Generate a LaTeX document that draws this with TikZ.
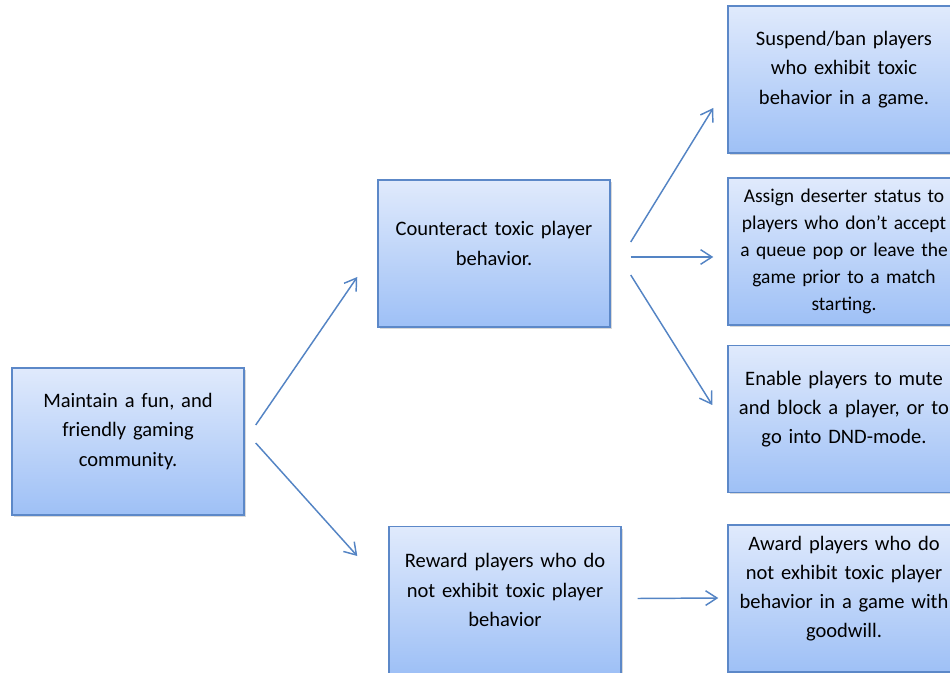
\documentclass[tikz,border=0pt]{standalone}
\usepackage{fontspec}
\setmainfont{Carlito}
\usetikzlibrary{arrows.meta,shadows}

\definecolor{boxline}{RGB}{92,136,200}
\definecolor{boxtop}{RGB}{224,234,252}
\definecolor{boxbottom}{RGB}{158,192,246}
\definecolor{arrowblue}{RGB}{84,132,196}

\begin{document}
\begin{tikzpicture}[x=0.75pt,y=-0.75pt,
		box/.style={draw=boxline,line width=1.1pt,top color=boxtop,bottom color=boxbottom,
			drop shadow={shadow xshift=1.5pt,shadow yshift=-1.5pt,opacity=0.3},
			minimum width=174pt,minimum height=110.25pt,inner xsep=2pt,text width=168pt,align=center,
			font=\fontsize{15.4}{21.9}\selectfont,execute at end node={\endgraf\kern#1}},
		box/.default=15pt,
		arr/.style={draw=arrowblue,line width=1.1pt,-{Straight Barb[length=8.5pt,width=11pt]}}]
			\useasboundingbox (0,0) rectangle (950,673);
			
			\node[box] (1) at (128,441.5) {Maintain a fun, and\\ friendly gaming\\ community.};
			\node[box] (2) at (494,253.5) {Counteract toxic player\\ behavior.};
			\node[box] (3) at (505,600) {Reward players who do\\ not exhibit toxic player\\ behavior};
			
			\node[box] (21) at (844,79.5) {Suspend/ban players\\ who exhibit toxic\\ behavior in a game.};
			\node[box=0pt,font=\fontsize{14.6}{20.25}\selectfont] (22) at (844,251.5) {Assign deserter status to\\ players who don’t accept\\ a queue pop or leave the\\ game prior to a match\\ starting.};
			\node[box] (23) at (844,419) {Enable players to mute\\ and block a player, or to\\ go into DND-mode.};
			\node[box] (31) at (844,598.5) {Award players who do\\ not exhibit toxic player\\ behavior in a game with\\ goodwill.};
			
			\path ([shift={(11,-16.5)}]1.east) edge[arr] ([shift={(-20,23.5)}]2.west);
			\path ([shift={(11,1.5)}]1.east) edge[arr] ([shift={(-31,-44)}]3.west);
			
			\path ([shift={(20,-11.5)}]2.east) edge[arr] ([shift={(-14,28.5)}]21.west);
			\path ([shift={(20,3.5)}]2.east) edge[arr] ([shift={(-14,5.5)}]22.west);
			\path ([shift={(20,21.5)}]2.east) edge[arr] ([shift={(-15,-14)}]23.west);
			
			\path ([shift={(16,-1.5)}]3.east) edge[arr] ([shift={(-9,-0.5)}]31.west);
		\end{tikzpicture}
\end{document}
